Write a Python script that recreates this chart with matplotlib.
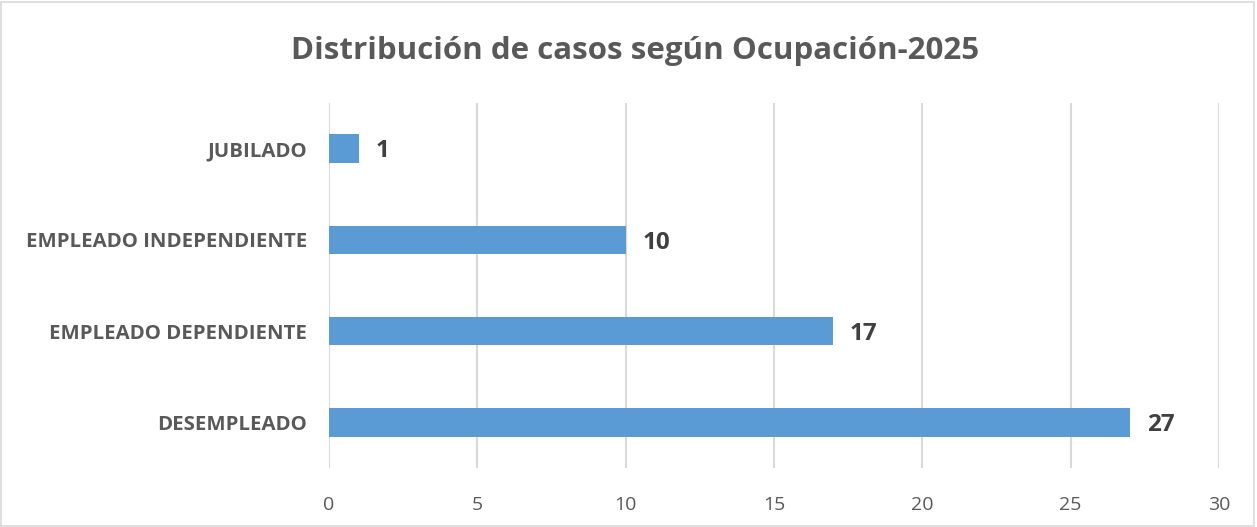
import matplotlib.pyplot as plt
from matplotlib.patches import Rectangle

categorias = ['DESEMPLEADO', 'EMPLEADO DEPENDIENTE', 'EMPLEADO INDEPENDIENTE', 'JUBILADO']
casos = [27, 17, 10, 1]
ticks_x = [0, 5, 10, 15, 20, 25, 30]

plt.rcParams['font.family'] = ['Open Sans', 'DejaVu Sans']

gris = '#595959'
azul = '#5B9BD5'

fig = plt.figure(figsize=(12.57, 5.27), dpi=100)
ax = fig.add_axes([329 / 1257, 1 - 468 / 527, (1219 - 329) / 1257, (468 - 103) / 527])

y = range(len(categorias))
ax.barh(y, casos, height=0.31, color=azul, zorder=3)

for yi, v in zip(y, casos):
    ax.annotate(str(v), xy=(v, yi), xytext=(12, -2), textcoords='offset points',
                va='center', ha='left', fontsize=17.5, fontweight='bold', color='#404040')

ax.set_xlim(0, 30)
ax.set_ylim(-0.5, len(categorias) - 0.5)
ax.set_xticks(ticks_x)
ax.set_xticklabels([str(t) for t in ticks_x], fontsize=14, color=gris)
ax.set_yticks(list(y))
ax.set_yticklabels(categorias, fontsize=14.7, fontweight='bold', color=gris)
ax.tick_params(axis='both', length=0)
ax.tick_params(axis='x', pad=20)
ax.tick_params(axis='y', pad=16)
ax.grid(axis='x', color='#D9D9D9', linewidth=1.5, zorder=0)
for s in ax.spines.values():
    s.set_visible(False)

fig.text(0.505, 1 - 51 / 527, 'Distribución de casos según Ocupación-2025',
         ha='center', va='center', fontsize=22.5, fontweight='bold', color=gris)

fig.patches.append(Rectangle((0.001, 0.002), 0.997, 0.995, transform=fig.transFigure,
                             fill=False, edgecolor='#D9D9D9', linewidth=1.2))

fig.savefig('out.png', dpi=100)
